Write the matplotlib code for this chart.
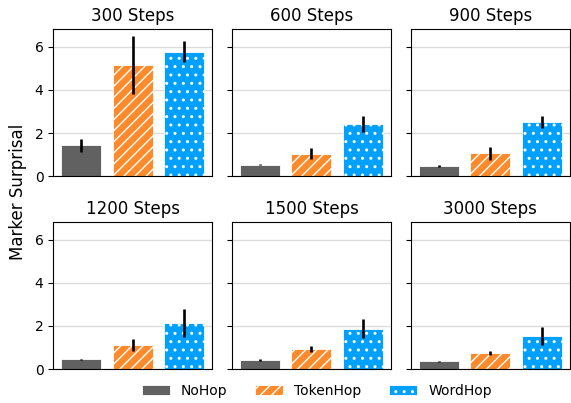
import numpy as np
import matplotlib.pyplot as plt

# mean marker surprisal and error per checkpoint (NoHop, TokenHop, WordHop)
steps = ['300', '600', '900', '1200', '1500', '3000']
models = ['NoHop', 'TokenHop', 'WordHop']

nohop = [1.44, 0.54, 0.47, 0.45, 0.43, 0.37]
tokenhop = [5.16, 1.05, 1.07, 1.12, 0.93, 0.76]
wordhop = [5.78, 2.40, 2.52, 2.14, 1.88, 1.53]

nohop_err = [0.30, 0.03, 0.03, 0.03, 0.03, 0.02]
tokenhop_err = [1.34, 0.25, 0.30, 0.28, 0.12, 0.10]
wordhop_err = [0.50, 0.37, 0.28, 0.66, 0.45, 0.43]

colors = ['#616161', '#ff8a2b', '#00a0ff']
hatches = ['', '///', '..']

fig, axes = plt.subplots(2, 3, figsize=(5.71, 4.03), dpi=100, sharey=True)
fig.subplots_adjust(left=0.093, right=0.998, top=0.928, bottom=0.084,
                    wspace=0.126, hspace=0.31)

x = np.arange(len(models))
for i, ax in enumerate(axes.flat):
    vals = [nohop[i], tokenhop[i], wordhop[i]]
    errs = [nohop_err[i], tokenhop_err[i], wordhop_err[i]]
    ax.grid(axis='y', color='#dcdcdc', linewidth=1)
    ax.set_axisbelow(True)
    for j in range(len(models)):
        ax.bar(x[j], vals[j], width=0.78, color=colors[j], hatch=hatches[j],
               edgecolor='white', linewidth=0.6, label=models[j], zorder=2)
        ax.errorbar(x[j], vals[j], yerr=errs[j], fmt='none', ecolor='black',
                    elinewidth=1.9, capsize=0, zorder=3)
    ax.set_xlim(-0.55, 2.55)
    ax.set_xticks([])
    ax.set_yticks([0, 2, 4, 6])
    ax.tick_params(axis='y', labelsize=10)
    ax.set_title(steps[i] + ' Steps', fontsize=12)

fig.text(0.032, 0.525, 'Marker Surprisal', rotation=90, fontsize=12,
         ha='center', va='center')

handles, labels = axes[0, 0].get_legend_handles_labels()
fig.legend(handles, labels, loc='center', bbox_to_anchor=(0.555, 0.03),
           ncol=3, frameon=False, fontsize=10)

plt.savefig('out.png', dpi=100)
